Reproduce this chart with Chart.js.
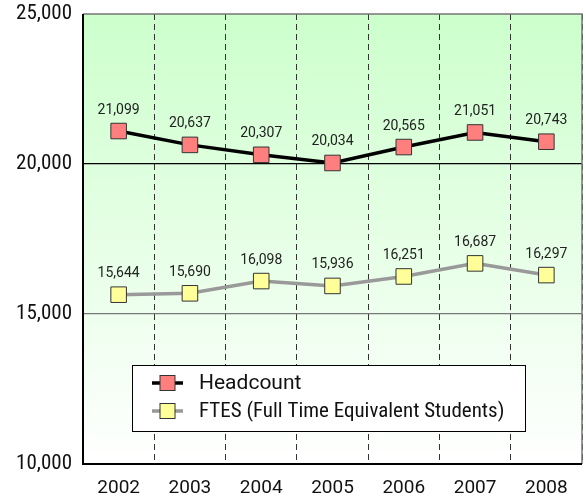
<!DOCTYPE html>
<html lang="en">
<head>
  <meta charset="utf-8"/>
  <title>Headcount and FTES 2002-2008</title>
  <script src="https://cdn.jsdelivr.net/npm/chart.js"></script>
  <style>
    html,body{margin:0;padding:0;background:#fff}
    .box{width:586px;height:499px;position:relative}
    canvas{display:block}
  </style>
</head>
<body>
<div class="box"><canvas id="enrollChart" width="586" height="499"></canvas></div>

<script>
const years=['2002','2003','2004','2005','2006','2007','2008'];
const headcount=[21099,20637,20307,20034,20565,21051,20743];
const ftes=[15644,15690,16098,15936,16251,16687,16297];
const yTicks=[10000,15000,20000,25000];

const FONT="Roboto,'Liberation Sans',sans-serif";
const STRETCH='semi-condensed';
const fmt=v=>v.toLocaleString('en-US');

// Roboto is variable here, so a narrower width can be asked for on the canvas
const narrowText={
  id:'narrowText',
  beforeInit(chart){chart.ctx.fontStretch=STRETCH;},
  beforeUpdate(chart){chart.ctx.fontStretch=STRETCH;},
  beforeDraw(chart){chart.ctx.fontStretch=STRETCH;}
};

// green-to-white background inside the plot area
const plotBackground={
  id:'plotBackground',
  beforeDraw(chart){
    const {ctx,chartArea:a}=chart;
    const g=ctx.createLinearGradient(0,a.top,0,a.bottom);
    g.addColorStop(0,'#ccffcc');
    g.addColorStop(1,'#ffffff');
    ctx.save();ctx.fillStyle=g;ctx.fillRect(a.left,a.top,a.right-a.left,a.bottom-a.top);ctx.restore();
  }
};

// frame: black left/bottom, gray top/right
const plotFrame={
  id:'plotFrame',
  afterDatasetsDraw(chart){
    const {ctx,chartArea:a}=chart;
    ctx.save();
    ctx.lineWidth=1.5;ctx.strokeStyle='#777';
    ctx.beginPath();ctx.moveTo(a.left,a.top);ctx.lineTo(a.right,a.top);ctx.lineTo(a.right,a.bottom);ctx.stroke();
    ctx.lineWidth=2;ctx.strokeStyle='#000';
    ctx.beginPath();ctx.moveTo(a.left,a.top);ctx.lineTo(a.left,a.bottom);ctx.lineTo(a.right,a.bottom);ctx.stroke();
    ctx.restore();
  }
};

// value labels above each marker
const valueLabels={
  id:'valueLabels',
  afterDatasetsDraw(chart){
    const ctx=chart.ctx;
    ctx.save();
    ctx.fontStretch=STRETCH;
    ctx.font='14px '+FONT;ctx.fillStyle='#222';ctx.textAlign='center';ctx.textBaseline='middle';
    chart.data.datasets.forEach((ds,i)=>{
      chart.getDatasetMeta(i).data.forEach((pt,j)=>{
        ctx.fillText(fmt(ds.data[j]),pt.x,pt.y-21);
      });
    });
    ctx.restore();
  }
};

// boxed legend inside the plot
const boxLegend={
  id:'boxLegend',
  afterDraw(chart){
    const ctx=chart.ctx;
    const x=132,y=365,w=393,h=66;
    ctx.save();
    ctx.fillStyle='#fff';ctx.fillRect(x,y,w,h);
    ctx.lineWidth=1;ctx.strokeStyle='#000';ctx.strokeRect(x+0.5,y+0.5,w,h);
    chart.data.datasets.forEach((ds,i)=>{
      const cy=y+18+i*28;
      ctx.lineWidth=ds.borderWidth;ctx.strokeStyle=ds.borderColor;
      ctx.beginPath();ctx.moveTo(152,cy);ctx.lineTo(183,cy);ctx.stroke();
      ctx.fillStyle=ds.pointBackgroundColor;ctx.lineWidth=1;ctx.strokeStyle=ds.pointBorderColor;
      ctx.fillRect(160,cy-7.5,15,15);ctx.strokeRect(160,cy-7.5,15,15);
      ctx.fontStretch='condensed';
      ctx.fillStyle='#111';ctx.font='21px '+FONT;ctx.textAlign='left';ctx.textBaseline='middle';
      ctx.fillText(ds.label,199,cy+1);
    });
    ctx.restore();
  }
};

// keep tick-label overhang from pushing the plot area inward
const noOverhang=s=>{s.paddingTop=0;s.paddingBottom=0;s.paddingLeft=0;s.paddingRight=0;};

new Chart(document.getElementById('enrollChart'),{
  type:'line',
  data:{
    labels:years,
    datasets:[
      {
        label:'Headcount',
        data:headcount,
        borderColor:'#000',
        borderWidth:3.5,
        pointStyle:'rect',
        pointRadius:11,
        pointHoverRadius:11,
        pointBackgroundColor:'#ff7f7f',
        pointBorderColor:'#333',
        pointBorderWidth:1,
        tension:0
      },
      {
        label:'FTES (Full Time Equivalent Students)',
        data:ftes,
        borderColor:'#999',
        borderWidth:3.5,
        pointStyle:'rect',
        pointRadius:11,
        pointHoverRadius:11,
        pointBackgroundColor:'#ffff99',
        pointBorderColor:'#333',
        pointBorderWidth:1,
        tension:0
      }
    ]
  },
  options:{
    responsive:false,
    animation:false,
    layout:{autoPadding:false,padding:{top:14,right:4,left:0,bottom:0}},
    plugins:{legend:{display:false},tooltip:{enabled:false}},
    scales:{
      x:{
        offset:true,
        grid:{
          offset:true,
          drawTicks:false,
          lineWidth:1,
          color:c=>(c.index===0||c.index>=years.length)?'rgba(0,0,0,0)':'#333'
        },
        border:{display:false,dash:[6,4]},
        ticks:{padding:13,color:'#111',font:{family:FONT,size:19}},
        afterFit:s=>{s.height=35;noOverhang(s);}
      },
      y:{
        min:yTicks[0],
        max:yTicks[yTicks.length-1],
        afterBuildTicks:s=>{s.ticks=yTicks.map(v=>({value:v}));},
        grid:{
          drawTicks:false,
          lineWidth:1.2,
          color:c=>{const v=c.tick&&c.tick.value;return v===20000?'#000':v===15000?'#777':'rgba(0,0,0,0)';}
        },
        border:{display:false},
        ticks:{padding:11,color:'#111',font:{family:FONT,size:21},callback:v=>fmt(v)},
        afterFit:s=>{s.width=83;noOverhang(s);}
      }
    }
  },
  plugins:[narrowText,plotBackground,plotFrame,valueLabels,boxLegend]
});
</script>
</body>
</html>
